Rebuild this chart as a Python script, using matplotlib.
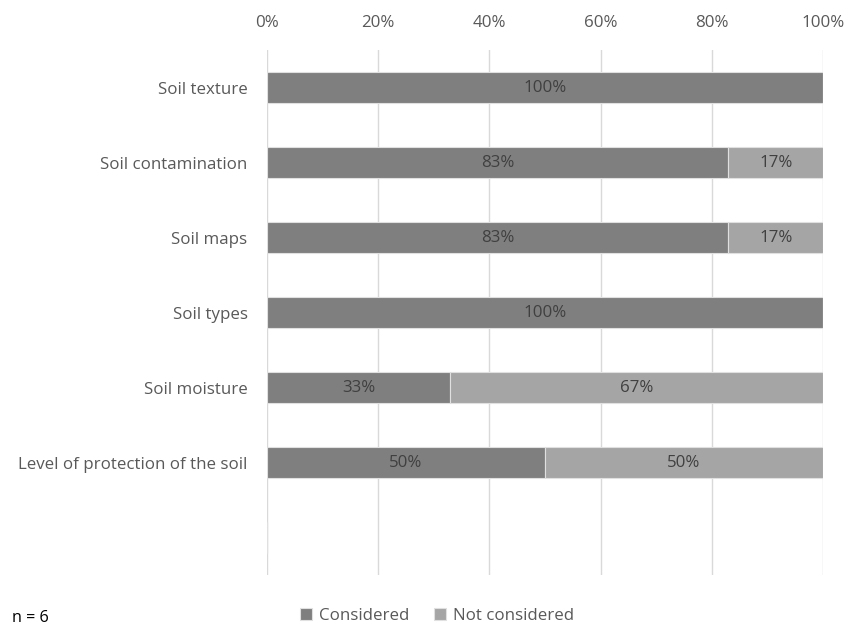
import matplotlib
matplotlib.use("Agg")
import matplotlib.pyplot as plt
import numpy as np

categories = ["Soil texture", "Soil contamination", "Soil maps", "Soil types",
              "Soil moisture", "Level of protection of the soil", ""]
considered = [100, 83, 83, 100, 33, 50, None]
not_considered = [0, 17, 17, 0, 67, 50, None]
xticks = [0, 20, 40, 60, 80, 100]

plt.rcParams['font.family'] = ['Open Sans', 'DejaVu Sans']
FS = 12.2

fig = plt.figure(figsize=(8.46, 6.25), dpi=100)
ax = fig.add_axes([267/846, 1-575/625, (823-267)/846, (575-50)/625])

y = np.arange(len(categories))
c = np.array([v if v is not None else 0 for v in considered], float)
n = np.array([v if v is not None else 0 for v in not_considered], float)

dark = '#7f7f7f'
light = '#a5a5a5'
h = 0.41
b1 = ax.barh(y, c, height=h, color=dark, edgecolor='#e0e0e0', linewidth=0.8, label='Considered', zorder=3)
b2 = ax.barh(y, n, left=c, height=h, color=light, edgecolor='#e0e0e0', linewidth=0.8, label='Not considered', zorder=3)

for i in range(len(categories)):
    if considered[i] is None:
        continue
    if c[i] > 0:
        ax.text(c[i]/2, y[i], f"{int(c[i])}%", ha='center', va='center', color='#404040', fontsize=FS, zorder=4)
    if n[i] > 0:
        ax.text(c[i] + n[i]/2, y[i], f"{int(n[i])}%", ha='center', va='center', color='#404040', fontsize=FS, zorder=4)

ax.set_xlim(0, 100)
ax.set_ylim(len(categories)-0.5, -0.5)
ax.set_xticks(xticks)
ax.set_xticklabels([f"{t}%" for t in xticks])
ax.xaxis.tick_top()
ax.set_yticks(y)
ax.set_yticklabels(categories)
ax.tick_params(axis='both', length=0, colors='#595959', labelsize=FS)
ax.tick_params(axis='x', pad=14)
ax.tick_params(axis='y', pad=14)
for s in ax.spines.values():
    s.set_visible(False)
ax.grid(axis='x', color='#d9d9d9', linewidth=1, zorder=0)
ax.set_axisbelow(True)

leg = fig.legend(handles=[b1, b2], labels=['Considered', 'Not considered'], loc='center',
                 bbox_to_anchor=(437/846, 1-616/625), ncol=2, frameon=False,
                 fontsize=FS, handlelength=0.7, handleheight=0.7, handletextpad=0.4,
                 columnspacing=1.5)
for t in leg.get_texts():
    t.set_color('#595959')

fig.text(12/846, 1-618/625, "n = 6", ha='left', va='center', fontsize=FS*0.95, color='black')

fig.savefig("out.png", dpi=100)
